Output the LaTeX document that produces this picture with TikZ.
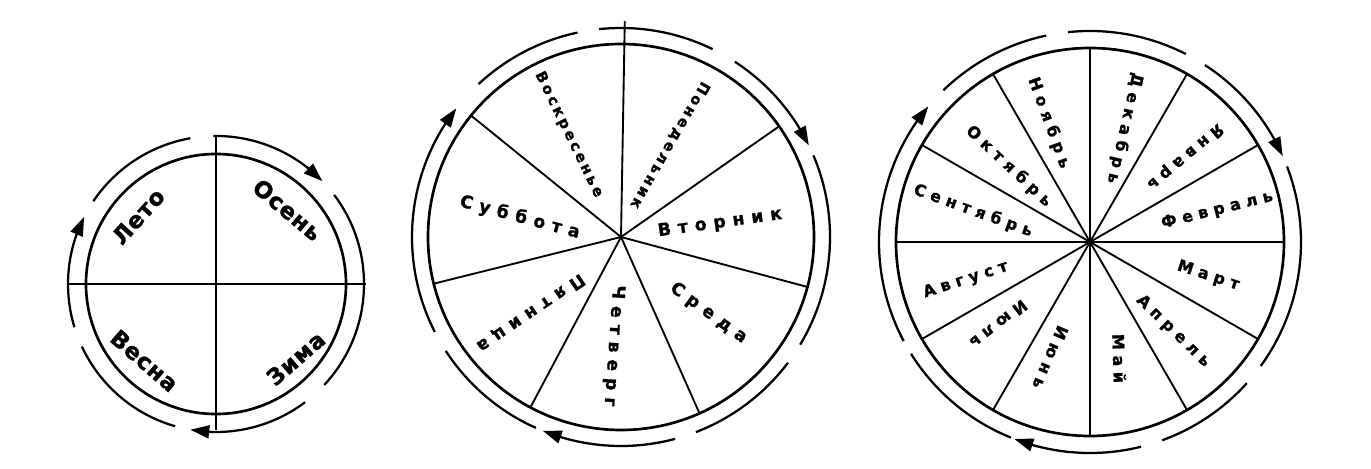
\documentclass[tikz,border=0pt]{standalone}
\usepackage{fontspec}
\setmainfont{DejaVu Sans}
\newfontfamily\seasonfont{DejaVu Sans}[LetterSpace=4, BoldFeatures={FakeBold=1.2}]
\newfontfamily\dayfont{DejaVu Sans}[LetterSpace=40, BoldFeatures={FakeBold=1.2}]
\newfontfamily\dayfontnarrow{DejaVu Sans}[LetterSpace=20, BoldFeatures={FakeBold=1.2}]
\newfontfamily\monthfont{DejaVu Sans}[LetterSpace=35, BoldFeatures={FakeBold=1.2}]
\usetikzlibrary{arrows.meta,bending,calc}
\tikzset{
  ring/.style={
    draw=black,
    line width=2pt
  },
  spoke/.style={
    draw=black,
    line width=1.4pt
  },
  cyclearc/.style={
    draw=black,
    line width=1.7pt
  },
  cyclearrow/.style={
    cyclearc,
    -{Triangle[length=5mm,width=3.4mm]}
  },
  season/.style={
    font=\seasonfont\bfseries\fontsize{17}{17}\selectfont,
    inner sep=0pt
  },
  day/.style={
    font=\dayfont\bfseries\fontsize{13}{13}\selectfont,
    inner sep=0pt
  },
  daynarrow/.style={
    font=\dayfontnarrow\bfseries\fontsize{11}{11}\selectfont,
    inner sep=0pt
  },
  month/.style={
    font=\monthfont\bfseries\fontsize{12}{12}\selectfont,
    inner sep=0pt
  }
}
\begin{document}
\begin{tikzpicture}[x=0.75pt,y=0.75pt]
\useasboundingbox (0,0) rectangle (1371,468);
\fill[white] (0,0) rectangle (1371,468);

\coordinate (seasons) at (216,184);
\coordinate (days) at (621,231);
\coordinate (months) at (1090,226);

% seasons
\draw[ring] (seasons) circle[radius=130];
\draw[spoke, line width=1.8pt] ($(seasons)+(90:148)$) -- ($(seasons)+(-90:146)$);
\draw[spoke, line width=1.8pt] ($(seasons)+(180:148)$) -- ($(seasons)+(0:150)$);

\draw[cyclearrow] ($(seasons)+(91:148)$) arc[start angle=91, end angle=44, radius=148];
\draw[cyclearc] ($(seasons)+(37:148)$) arc[start angle=37, end angle=-43, radius=148];
\draw[cyclearrow] ($(seasons)+(-53:148)$) arc[start angle=-53, end angle=-100, radius=148];
\draw[cyclearc] ($(seasons)+(-106:148)$) arc[start angle=-106, end angle=-155, radius=148];
\draw[cyclearrow] ($(seasons)+(197:148)$) arc[start angle=197, end angle=153, radius=148];
\draw[cyclearc] ($(seasons)+(146:148)$) arc[start angle=146, end angle=100, radius=148];

\node[season, rotate=48] (summer) at ($(seasons)+(139:103)$) {Лето};
\node[season, rotate=-40] (autumn) at ($(seasons)+(46:103)$) {Осень};
\node[season, rotate=41] (winter) at ($(seasons)+(-43:109)$) {Зима};
\node[season, rotate=-41] (spring) at ($(seasons)+(227:105)$) {Весна};

% days of the week
\draw[ring] (days) circle[radius=193];
\draw[spoke] (days) -- ($(days)+(89:216)$);
\foreach \a in {35,-15,-66,-118,-166,141}
  \draw[spoke] (days) -- ($(days)+(\a:193)$);

\draw[cyclearc] ($(days)+(96:209)$) arc[start angle=96, end angle=64, radius=209];
\draw[cyclearrow] ($(days)+(57:209)$) arc[start angle=57, end angle=26, radius=209];
\draw[cyclearc] ($(days)+(23:209)$) arc[start angle=23, end angle=-31, radius=209];
\draw[cyclearc] ($(days)+(-37:209)$) arc[start angle=-37, end angle=-69, radius=209];
\draw[cyclearrow] ($(days)+(-75:209)$) arc[start angle=-75, end angle=-112, radius=209];
\draw[cyclearc] ($(days)+(-114:209)$) arc[start angle=-114, end angle=-147, radius=209];
\draw[cyclearrow] ($(days)+(207:209)$) arc[start angle=207, end angle=142, radius=209];
\draw[cyclearc] ($(days)+(133:209)$) arc[start angle=133, end angle=102, radius=209];

\node[daynarrow, rotate=-120] (monday) at ($(days)+(62:104)$) {Понедельник};
\node[day, rotate=8] (tuesday) at ($(days)+(8:100)$) {Вторник};
\node[day, rotate=-36] (wednesday) at ($(days)+(-41:116)$) {Среда};
\node[day, rotate=-94] (thursday) at ($(days)+(-94:109)$) {Четверг};
\node[day, rotate=-146] (friday) at ($(days)+(220:118)$) {Пятница};
\node[day, rotate=-15] (saturday) at ($(days)+(169:103)$) {Суббота};
\node[daynarrow, rotate=-64] (sunday) at ($(days)+(117:115)$) {Воскресенье};

% months
\draw[ring] (months) circle[radius=194];
\foreach \a in {0,30,...,150}
  \draw[spoke] ($(months)+(\a:194)$) -- ($(months)+(\a+180:194)$);

\draw[cyclearc] ($(months)+(96:211)$) arc[start angle=96, end angle=63, radius=211];
\draw[cyclearrow] ($(months)+(57:211)$) arc[start angle=57, end angle=24, radius=211];
\draw[cyclearc] ($(months)+(21:211)$) arc[start angle=21, end angle=-36, radius=211];
\draw[cyclearc] ($(months)+(-42:211)$) arc[start angle=-42, end angle=-70, radius=211];
\draw[cyclearrow] ($(months)+(-76:211)$) arc[start angle=-76, end angle=-111, radius=211];
\draw[cyclearc] ($(months)+(-112:211)$) arc[start angle=-112, end angle=-148, radius=211];
\draw[cyclearrow] ($(months)+(208:211)$) arc[start angle=208, end angle=140, radius=211];
\draw[cyclearc] ($(months)+(134:211)$) arc[start angle=134, end angle=102, radius=211];

\node[month, rotate=-103] (december) at ($(months)+(73:119)$) {Декабрь};
\node[month, rotate=-140] (january) at ($(months)+(42:128)$) {Январь};
\node[month, rotate=14] (february) at ($(months)+(14:131)$) {Февраль};
\node[month, rotate=-18] (march) at ($(months)+(-16:123)$) {Март};
\node[month, rotate=-44] (april) at ($(months)+(-47:122)$) {Апрель};
\node[month, rotate=-88] (may) at ($(months)+(-76:120)$) {Май};
\node[month, rotate=-113] (june) at ($(months)+(-109:122)$) {Июнь};
\node[month, rotate=-142] (july) at ($(months)+(222:123)$) {Июль};
\node[month, rotate=18] (august) at ($(months)+(197:130)$) {Август};
\node[month, rotate=-20] (september) at ($(months)+(165:121)$) {Сентябрь};
\node[month, rotate=-43] (october) at ($(months)+(137:111)$) {Октябрь};
\node[month, rotate=-70] (november) at ($(months)+(109:126)$) {Ноябрь};

\end{tikzpicture}
\end{document}
